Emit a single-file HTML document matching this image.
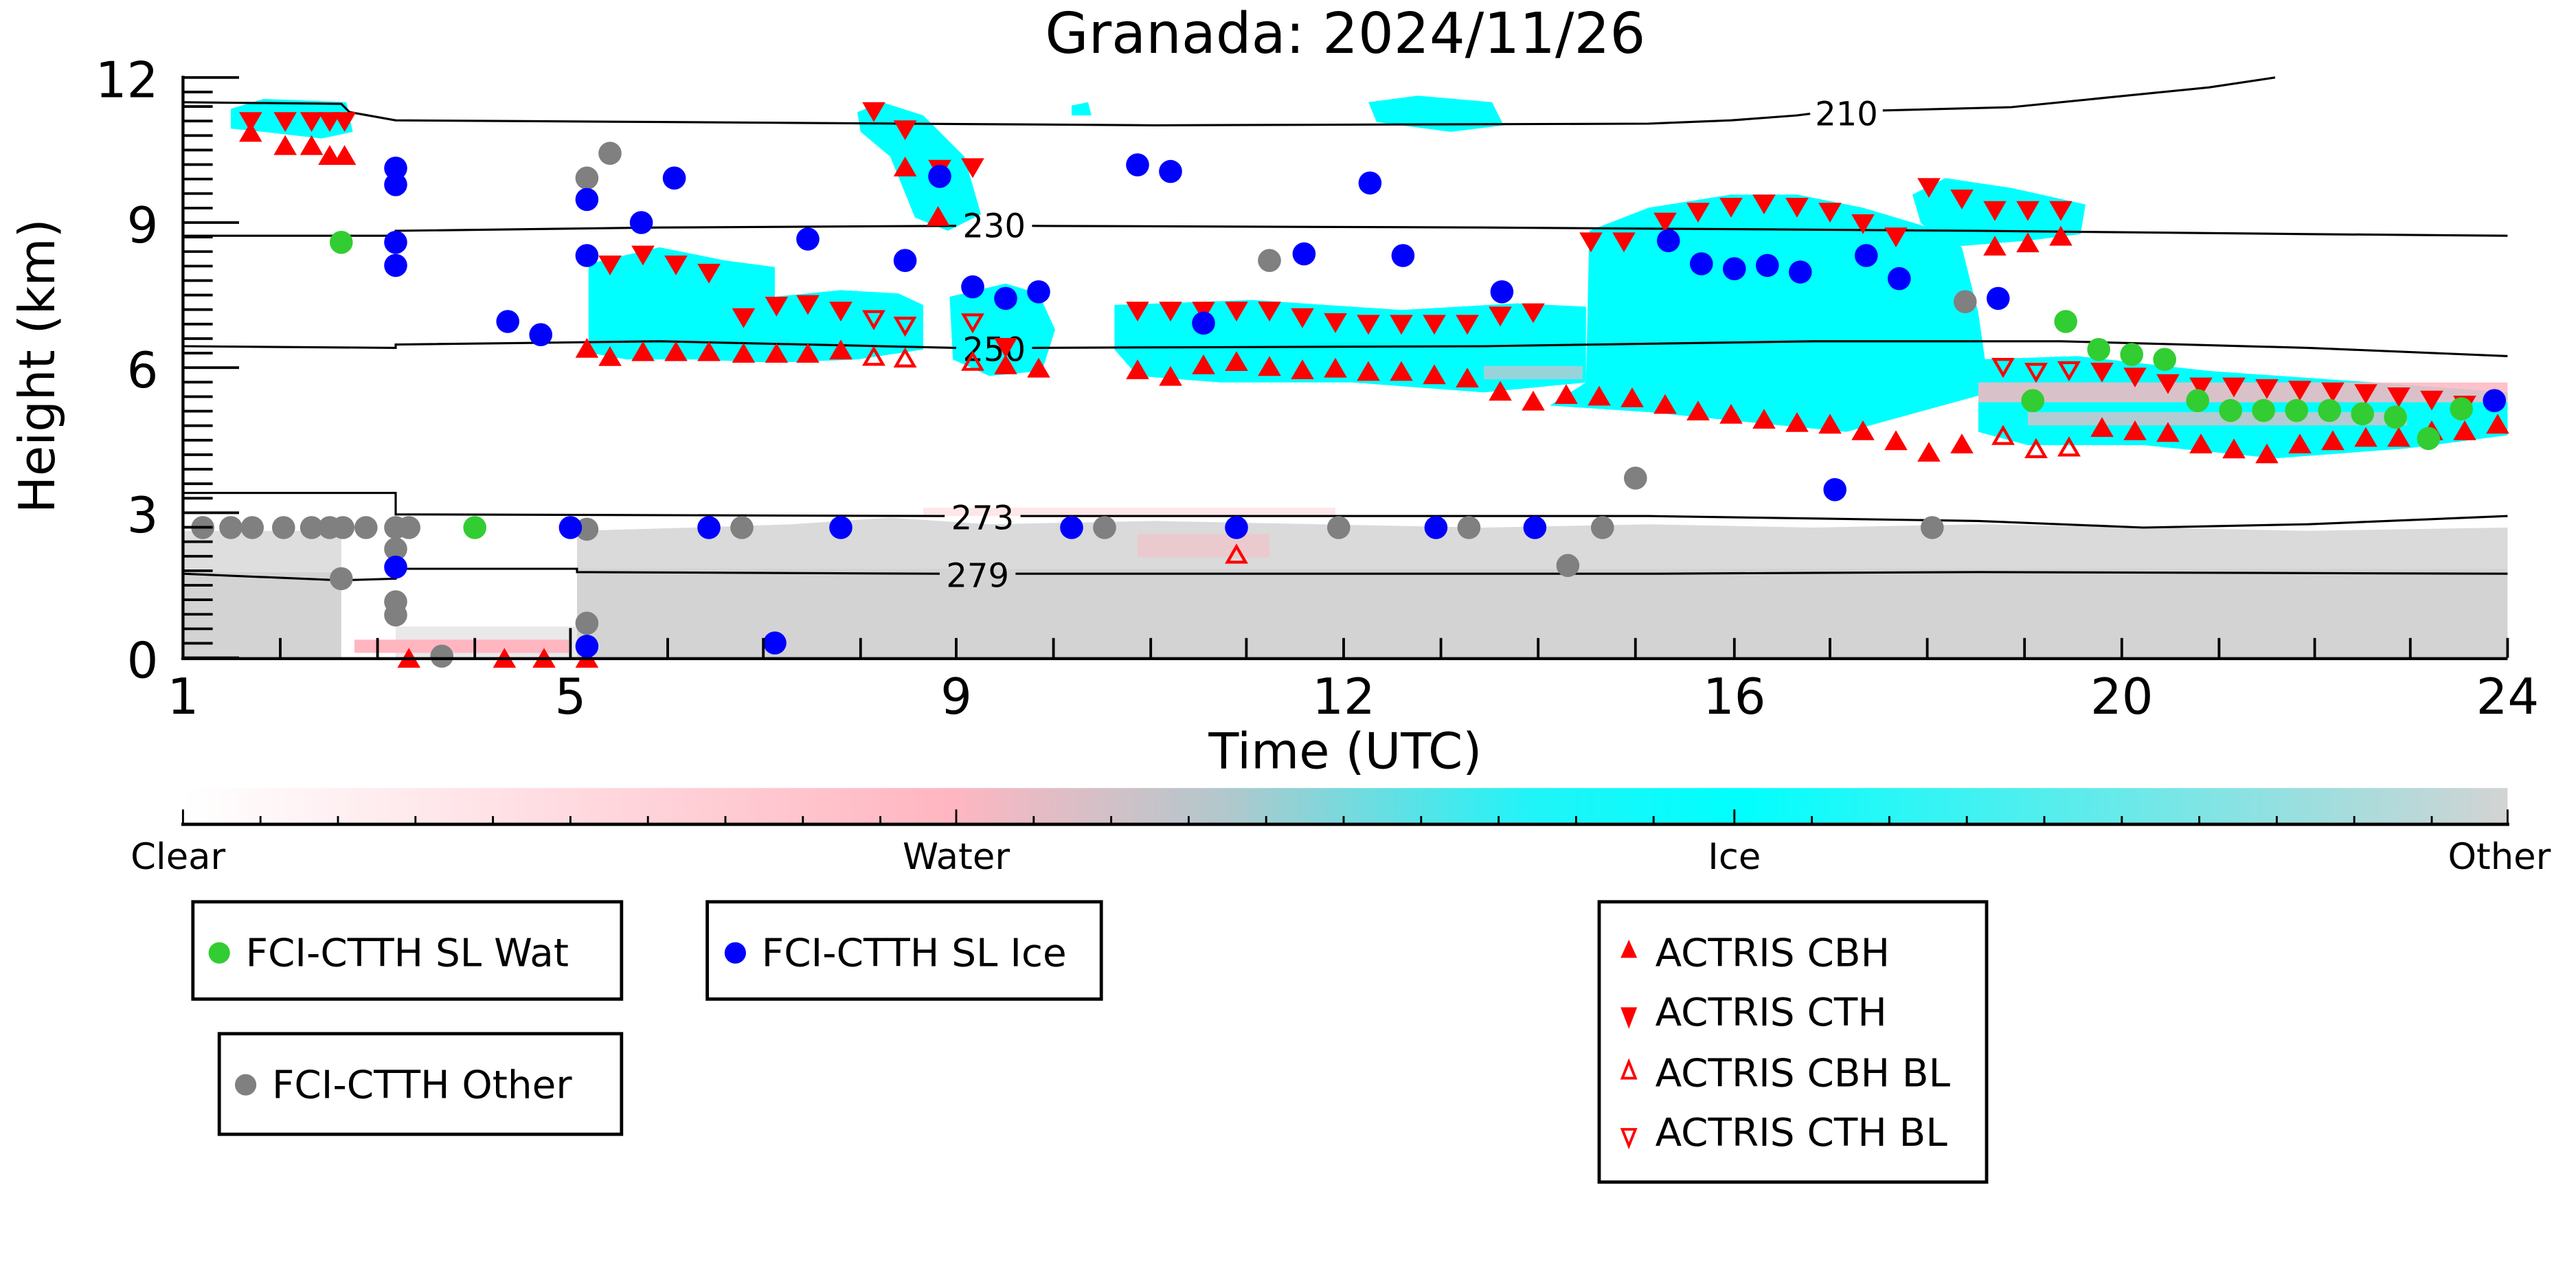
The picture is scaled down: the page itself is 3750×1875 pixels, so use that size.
<!DOCTYPE html>
<html><head><meta charset="utf-8"><style>
html,body{margin:0;padding:0;background:#fff}
svg{display:block}
text{font-family:"DejaVu Sans","Liberation Sans",sans-serif;fill:#000}
</style></head><body>
<svg width="3750" height="1875" viewBox="0 0 1562.5 781.25" xmlns="http://www.w3.org/2000/svg">
<defs>
<path id="u" d="M0,-7 L7,5 L-7,5Z" fill="#f00"/>
<path id="d" d="M0,7 L7,-5 L-7,-5Z" fill="#f00"/>
<path id="uh" d="M0,-5.5 L5.5,4 L-5.5,4Z" fill="none" stroke="#f00" stroke-width="1.8"/>
<path id="dh" d="M0,5.5 L5.5,-4 L-5.5,-4Z" fill="none" stroke="#f00" stroke-width="1.8"/>
<circle id="b" r="7" fill="#0000ff"/>
<circle id="g" r="7" fill="#808080"/>
<circle id="w" r="7" fill="#32cd32"/>
<linearGradient id="cb" x1="0" x2="1" y1="0" y2="0">
<stop offset="0" stop-color="#ffffff"/>
<stop offset="0.33" stop-color="#ffb6c1"/>
<stop offset="0.45" stop-color="#b0c8cc"/>
<stop offset="0.58" stop-color="#20f4f8"/>
<stop offset="0.67" stop-color="#00ffff"/>
<stop offset="1" stop-color="#d3d3d3"/>
</linearGradient>
</defs>

<text x="816" y="32" font-size="34" text-anchor="middle">Granada: 2024/11/26</text>

<g fill="#d3d3d3">
<rect x="111" y="347" width="96" height="52"/>
<rect x="111" y="322" width="96" height="25" opacity="0.75"/>
<rect x="350" y="345" width="1171" height="54"/>
<path d="M350,345 L350,322 L420,320 L480,318 L540,314 L600,318 L700,316 L800,318 L900,320 L1000,318 L1100,320 L1200,318 L1300,320 L1400,322 L1521,320 L1521,345Z" opacity="0.85"/>
<rect x="240" y="380" width="110" height="19" opacity="0.5"/>
</g>
<g fill="#ffb6c1">
<rect x="215" y="388" width="130" height="8"/>
<rect x="560" y="308" width="250" height="5" opacity="0.35"/>
<rect x="690" y="324" width="80" height="14" opacity="0.45"/>
</g>

<g fill="#00ffff">
<path d="M140,66 L160,60 L210,62 L214,80 L195,84 L160,80 L140,78Z"/>
<path d="M520,68 L535,62 L560,70 L585,95 L595,130 L575,140 L555,132 L540,95 L522,80Z"/>
<path d="M357,160 L400,150 L440,158 L470,162 L470,180 L510,176 L545,178 L560,185 L560,212 L520,218 L470,220 L420,218 L380,218 L357,214Z"/>
<path d="M576,180 L610,172 L630,178 L640,200 L632,225 L600,228 L578,218Z"/>
<path d="M676,185 L760,182 L850,188 L920,184 L962,186 L962,232 L900,238 L820,232 L740,232 L690,228 L676,212Z"/>
<path d="M964,140 L1000,126 L1050,118 L1090,118 L1130,126 L1170,138 L1190,150 L1200,190 L1205,225 L1200,240 L1120,262 L1060,256 L1000,250 L940,246 L962,232Z"/>
<path d="M1160,118 L1180,108 L1220,114 L1265,124 L1262,142 L1230,146 L1180,150 L1165,135Z"/>
<path d="M1200,218 L1260,216 L1340,225 L1440,232 L1521,238 L1521,264 L1460,272 L1380,278 L1300,270 L1230,270 L1200,262Z"/>
<path d="M830,62 L860,58 L905,62 L912,76 L880,80 L835,74Z"/>
<path d="M650,64 L660,62 L662,70 L650,70Z"/>
</g>
<g fill="#ffb6c1">
<rect x="1200" y="232" width="321" height="12" opacity="0.85"/>
<rect x="1230" y="250" width="230" height="8" opacity="0.7"/>
<rect x="900" y="222" width="60" height="8" opacity="0.6"/>
</g>

<g fill="none" stroke="#000" stroke-width="1.3">
<path d="M111,62 L207,63 L212,68 L240,73 L400,74 L700,76 L1000,75 L1050,73 L1090,70 L1098,69"/>
<path d="M1142,67 L1220,65 L1280,59 L1340,53 L1380,47"/>
<path d="M111,143 L240,143 L240,140 L400,138 L580,137"/>
<path d="M626,137 L900,138 L1200,140 L1400,142 L1521,143"/>
<path d="M111,210 L240,211 L240,209 L400,207 L580,211"/>
<path d="M626,211 L900,210 L1100,207 L1250,207 L1400,211 L1521,216"/>
<path d="M111,299 L240,299 L240,312 L573,313"/>
<path d="M619,313 L1000,313 L1200,316 L1300,320 L1400,318 L1521,313"/>
<path d="M111,348 L207,352 L240,351 L240,345 L350,345 L350,347 L570,348"/>
<path d="M616,348 L1000,348 L1200,347 L1521,348"/>
</g>
<g font-size="20" text-anchor="middle">
<text x="1120" y="76">210</text>
<text x="603" y="144">230</text>
<text x="603" y="219">250</text>
<text x="596" y="321">273</text>
<text x="593" y="356">279</text>
</g>

<g>
<use href="#d" x="152" y="73"/><use href="#d" x="173" y="73"/><use href="#d" x="189" y="73"/><use href="#d" x="200" y="73"/><use href="#d" x="209" y="73"/>
<use href="#u" x="152" y="81"/><use href="#u" x="173" y="89"/><use href="#u" x="189" y="89"/><use href="#u" x="200" y="95"/><use href="#u" x="209" y="95"/>
<use href="#d" x="370" y="160"/><use href="#d" x="390" y="154"/><use href="#d" x="410" y="160"/><use href="#d" x="430" y="165"/>
<use href="#d" x="451" y="192"/><use href="#d" x="471" y="185"/><use href="#d" x="490" y="184"/><use href="#d" x="510" y="188"/>
<use href="#u" x="356" y="212"/><use href="#u" x="370" y="217"/><use href="#u" x="390" y="214"/><use href="#u" x="410" y="214"/><use href="#u" x="430" y="214"/><use href="#u" x="451" y="215"/><use href="#u" x="471" y="215"/><use href="#u" x="490" y="215"/><use href="#u" x="510" y="213"/>
<use href="#dh" x="530" y="193"/><use href="#dh" x="549" y="197"/><use href="#uh" x="530" y="217"/><use href="#uh" x="549" y="218"/>
<use href="#d" x="530" y="67"/><use href="#d" x="549" y="78"/><use href="#u" x="549" y="102"/><use href="#d" x="570" y="102"/><use href="#d" x="590" y="101"/><use href="#u" x="569" y="132"/>
<use href="#dh" x="590" y="195"/><use href="#uh" x="590" y="220"/><use href="#d" x="610" y="210"/><use href="#u" x="610" y="222"/><use href="#u" x="630" y="224"/>
<use href="#d" x="690" y="188"/><use href="#d" x="710" y="188"/><use href="#d" x="730" y="188"/><use href="#d" x="750" y="188"/><use href="#d" x="770" y="188"/><use href="#d" x="790" y="192"/><use href="#d" x="810" y="195"/><use href="#d" x="830" y="196"/><use href="#d" x="850" y="196"/><use href="#d" x="870" y="196"/><use href="#d" x="890" y="196"/><use href="#d" x="910" y="191"/><use href="#d" x="930" y="189"/>
<use href="#u" x="690" y="225"/><use href="#u" x="710" y="229"/><use href="#u" x="730" y="222"/><use href="#u" x="750" y="220"/><use href="#u" x="770" y="223"/><use href="#u" x="790" y="225"/><use href="#u" x="810" y="224"/><use href="#u" x="830" y="226"/><use href="#u" x="850" y="226"/><use href="#u" x="870" y="228"/><use href="#u" x="890" y="230"/><use href="#u" x="910" y="238"/><use href="#u" x="930" y="244"/><use href="#u" x="950" y="240"/><use href="#u" x="970" y="241"/><use href="#u" x="990" y="242"/><use href="#u" x="1010" y="246"/><use href="#u" x="1030" y="250"/><use href="#u" x="1050" y="252"/><use href="#u" x="1070" y="255"/><use href="#u" x="1090" y="257"/><use href="#u" x="1110" y="258"/><use href="#u" x="1130" y="262"/><use href="#u" x="1150" y="268"/><use href="#u" x="1170" y="275"/><use href="#u" x="1190" y="270"/>
<use href="#d" x="965" y="146"/><use href="#d" x="985" y="146"/><use href="#d" x="1010" y="134"/><use href="#d" x="1030" y="128"/><use href="#d" x="1050" y="125"/><use href="#d" x="1070" y="123"/><use href="#d" x="1090" y="125"/><use href="#d" x="1110" y="128"/><use href="#d" x="1130" y="135"/><use href="#d" x="1150" y="143"/><use href="#d" x="1170" y="113"/><use href="#d" x="1190" y="120"/><use href="#d" x="1210" y="127"/><use href="#d" x="1230" y="127"/><use href="#d" x="1250" y="127"/>
<use href="#u" x="1210" y="150"/><use href="#u" x="1230" y="148"/><use href="#u" x="1250" y="144"/>
<use href="#dh" x="1215" y="222"/><use href="#dh" x="1235" y="225"/><use href="#dh" x="1255" y="224"/>
<use href="#d" x="1275" y="225"/><use href="#d" x="1295" y="228"/><use href="#d" x="1315" y="232"/><use href="#d" x="1335" y="234"/><use href="#d" x="1355" y="234"/><use href="#d" x="1375" y="235"/><use href="#d" x="1395" y="236"/><use href="#d" x="1415" y="237"/><use href="#d" x="1435" y="238"/><use href="#d" x="1455" y="240"/><use href="#d" x="1475" y="242"/><use href="#d" x="1495" y="245"/>
<use href="#uh" x="1215" y="265"/><use href="#uh" x="1235" y="273"/><use href="#uh" x="1255" y="272"/>
<use href="#u" x="1275" y="260"/><use href="#u" x="1295" y="262"/><use href="#u" x="1315" y="263"/><use href="#u" x="1335" y="270"/><use href="#u" x="1355" y="273"/><use href="#u" x="1375" y="276"/><use href="#u" x="1395" y="270"/><use href="#u" x="1415" y="268"/><use href="#u" x="1435" y="266"/><use href="#u" x="1455" y="266"/><use href="#u" x="1475" y="262"/><use href="#u" x="1495" y="262"/><use href="#u" x="1515" y="258"/>
<use href="#u" x="248" y="400"/><use href="#u" x="306" y="400"/><use href="#u" x="330" y="400"/><use href="#u" x="356" y="400"/>
<use href="#uh" x="750" y="337"/>
</g>

<g>
<use href="#g" x="123" y="320"/><use href="#g" x="140" y="320"/><use href="#g" x="153" y="320"/><use href="#g" x="172" y="320"/><use href="#g" x="189" y="320"/><use href="#g" x="200" y="320"/><use href="#g" x="208" y="320"/><use href="#g" x="222" y="320"/><use href="#g" x="240" y="320"/><use href="#g" x="248" y="320"/><use href="#g" x="240" y="333"/><use href="#g" x="240" y="365"/><use href="#g" x="240" y="373"/><use href="#g" x="207" y="351"/><use href="#g" x="268" y="398"/><use href="#g" x="356" y="108"/><use href="#g" x="370" y="93"/><use href="#g" x="356" y="321"/><use href="#g" x="356" y="378"/><use href="#g" x="770" y="158"/><use href="#g" x="1192" y="183"/><use href="#g" x="992" y="290"/><use href="#g" x="951" y="343"/><use href="#g" x="972" y="320"/><use href="#g" x="1172" y="320"/><use href="#g" x="812" y="320"/><use href="#g" x="891" y="320"/><use href="#g" x="670" y="320"/><use href="#g" x="450" y="320"/>
<use href="#b" x="240" y="102"/><use href="#b" x="240" y="112"/><use href="#b" x="240" y="147"/><use href="#b" x="240" y="161"/><use href="#b" x="308" y="195"/><use href="#b" x="328" y="203"/><use href="#b" x="356" y="121"/><use href="#b" x="356" y="155"/><use href="#b" x="389" y="135"/><use href="#b" x="409" y="108"/><use href="#b" x="490" y="145"/><use href="#b" x="549" y="158"/><use href="#b" x="570" y="107"/><use href="#b" x="590" y="174"/><use href="#b" x="610" y="181"/><use href="#b" x="630" y="177"/><use href="#b" x="690" y="100"/><use href="#b" x="710" y="104"/><use href="#b" x="730" y="196"/><use href="#b" x="791" y="154"/><use href="#b" x="831" y="111"/><use href="#b" x="851" y="155"/><use href="#b" x="911" y="177"/><use href="#b" x="1012" y="146"/><use href="#b" x="1032" y="160"/><use href="#b" x="1052" y="163"/><use href="#b" x="1072" y="161"/><use href="#b" x="1092" y="165"/><use href="#b" x="1132" y="155"/><use href="#b" x="1152" y="169"/><use href="#b" x="1212" y="181"/><use href="#b" x="1113" y="297"/><use href="#b" x="1513" y="243"/>
<use href="#b" x="346" y="320"/><use href="#b" x="430" y="320"/><use href="#b" x="510" y="320"/><use href="#b" x="650" y="320"/><use href="#b" x="750" y="320"/><use href="#b" x="871" y="320"/><use href="#b" x="931" y="320"/><use href="#b" x="240" y="344"/><use href="#b" x="356" y="392"/><use href="#b" x="470" y="390"/>
<use href="#w" x="207" y="147"/><use href="#w" x="288" y="320"/><use href="#w" x="1233" y="243"/><use href="#w" x="1253" y="195"/><use href="#w" x="1273" y="212"/><use href="#w" x="1293" y="215"/><use href="#w" x="1313" y="218"/><use href="#w" x="1333" y="243"/><use href="#w" x="1353" y="249"/><use href="#w" x="1373" y="249"/><use href="#w" x="1393" y="249"/><use href="#w" x="1413" y="249"/><use href="#w" x="1433" y="251"/><use href="#w" x="1453" y="253"/><use href="#w" x="1473" y="266"/><use href="#w" x="1493" y="248"/>
</g>

<g stroke="#000" stroke-width="1.8">
<line x1="111" y1="46" x2="111" y2="400"/>
<line x1="110" y1="399.5" x2="1521" y2="399.5"/>
</g>
<g stroke="#000" stroke-width="1.6">
<path d="M111,399H145 M111,311H145 M111,223H145 M111,135H145 M111,47H145"/>
<path d="M111,390.2H129 M111,381.4H129 M111,372.6H129 M111,363.8H129 M111,355H129 M111,346.2H129 M111,337.4H129 M111,328.6H129 M111,319.8H129
M111,302.2H129 M111,293.4H129 M111,284.6H129 M111,275.8H129 M111,267H129 M111,258.2H129 M111,249.4H129 M111,240.6H129 M111,231.8H129
M111,214.2H129 M111,205.4H129 M111,196.6H129 M111,187.8H129 M111,179H129 M111,170.2H129 M111,161.4H129 M111,152.6H129 M111,143.8H129
M111,126.2H129 M111,117.4H129 M111,108.6H129 M111,99.8H129 M111,91H129 M111,82.2H129 M111,73.4H129 M111,64.6H129 M111,55.8H129"/>
<path d="M170,399V387 M229,399V387 M288,399V387 M346,399V381 M405,399V387 M463,399V387 M522,399V387 M580,399V387 M639,399V387 M698,399V387 M756,399V387 M815,399V387 M874,399V387 M933,399V387 M992,399V387 M1052,399V387 M1110,399V387 M1169,399V387 M1228,399V387 M1287,399V387 M1346,399V387 M1404,399V387 M1462,399V387 M1521,399V387"/>
</g>
<g font-size="30" text-anchor="end">
<text x="96" y="59">12</text><text x="96" y="147">9</text><text x="96" y="235">6</text><text x="96" y="323">3</text><text x="96" y="411">0</text>
</g>
<g font-size="30" text-anchor="middle">
<text x="111" y="433">1</text><text x="346" y="433">5</text><text x="580" y="433">9</text><text x="815" y="433">12</text><text x="1052" y="433">16</text><text x="1287" y="433">20</text><text x="1521" y="433">24</text>
</g>
<text x="816" y="466" font-size="30" text-anchor="middle">Time (UTC)</text>
<text transform="translate(33,222) rotate(-90)" font-size="30" text-anchor="middle">Height (km)</text>

<rect x="111" y="478" width="1410" height="22" fill="url(#cb)"/>
<line x1="110" y1="500" x2="1522" y2="500" stroke="#000" stroke-width="2"/>
<g stroke="#000" stroke-width="1.2">
<path d="M111,500V491 M580,500V491 M1052,500V491 M1521,500V491"/>
<path d="M158,500V495 M205,500V495 M252,500V495 M299,500V495 M346,500V495 M393,500V495 M440,500V495 M487,500V495 M534,500V495 M627,500V495 M674,500V495 M721,500V495 M768,500V495 M815,500V495 M862,500V495 M909,500V495 M956,500V495 M1003,500V495 M1099,500V495 M1146,500V495 M1193,500V495 M1240,500V495 M1287,500V495 M1334,500V495 M1381,500V495 M1428,500V495 M1475,500V495"/>
</g>
<g font-size="22" text-anchor="middle">
<text x="108" y="527">Clear</text><text x="580" y="527">Water</text><text x="1052" y="527">Ice</text><text x="1516" y="527">Other</text>
</g>

<g fill="none" stroke="#000" stroke-width="2">
<rect x="117" y="547" width="260" height="59"/>
<rect x="429" y="547" width="239" height="59"/>
<rect x="133" y="627" width="244" height="61"/>
<rect x="970" y="547" width="235" height="170"/>
</g>
<g font-size="23.5">
<circle cx="133" cy="578" r="6.5" fill="#32cd32"/><text x="149" y="586">FCI-CTTH SL Wat</text>
<circle cx="446" cy="578" r="6.5" fill="#0000ff"/><text x="462" y="586">FCI-CTTH SL Ice</text>
<circle cx="149" cy="658" r="6.5" fill="#808080"/><text x="165" y="666">FCI-CTTH Other</text>
<path d="M988,570 L993,581 L983,581Z" fill="#f00"/><text x="1004" y="586">ACTRIS CBH</text>
<path d="M988,624 L993,611 L983,611Z" fill="#f00"/><text x="1004" y="622">ACTRIS CTH</text>
<path d="M988,644 L992,654 L984,654Z" fill="none" stroke="#f00" stroke-width="1.6"/><text x="1004" y="659">ACTRIS CBH BL</text>
<path d="M988,695 L992,685 L984,685Z" fill="none" stroke="#f00" stroke-width="1.6"/><text x="1004" y="695">ACTRIS CTH BL</text>
</g>
</svg>
</body></html>
